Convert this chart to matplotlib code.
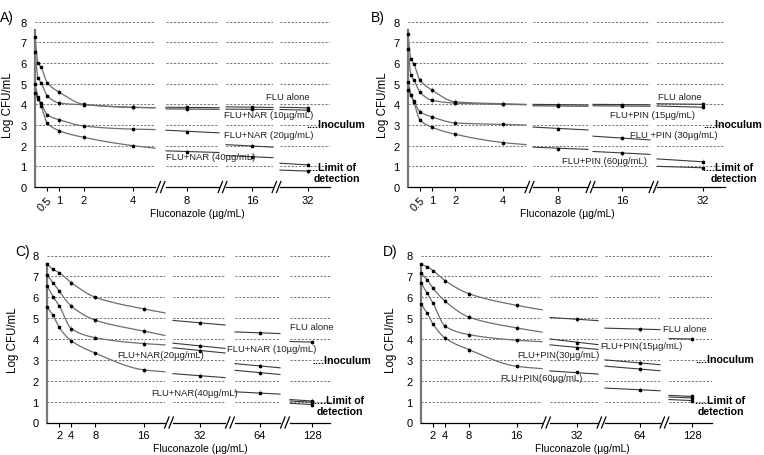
import numpy as np
import matplotlib
matplotlib.use('Agg')
import matplotlib.pyplot as plt
from matplotlib.lines import Line2D

plt.rcParams['font.family'] = ['Liberation Sans', 'DejaVu Sans']

# ------------------------------------------------------------------ data
SERIES_A = ["FLU alone", "FLU+NAR (10µg/mL)", "FLU+NAR (20µg/mL)", "FLU+NAR (40µg/mL)"]
SERIES_B = ["FLU alone", "FLU+PIN (15µg/mL)", "FLU +PIN (30µg/mL)", "FLU+PIN (60µg/mL)"]
SERIES_C = ["FLU alone", "FLU+NAR (10µg/mL)", "FLU+NAR(20µg/mL)", "FLU+NAR(40µg/mL)"]
SERIES_D = ["FLU alone", "FLU+PIN(15µg/mL)", "FLU+PIN(30µg/mL)", "FLU+PIN(60µg/mL)"]

# Panel A
A_conc = [0, 0.125, 0.25, 0.5, 1, 2, 4]
A_flu_alone = [7.25, 6.0, 5.8, 5.05, 4.58, 4.0, 3.85]
A_flu_nar10 = [6.55, 5.28, 5.05, 4.42, 4.06, 3.98, 3.86]
A_flu_nar20 = [5.0, 4.35, 4.05, 3.5, 3.25, 2.95, 2.8]
A_flu_nar40 = [4.55, 4.25, 3.92, 3.1, 2.72, 2.4, 2.0]
A_err = [0.0, 0.05, 0.05, 0.1, 0.15, 0.12, 0.12]
A_edge = [3.83, 3.84, 2.78, 1.88]
A_tail_conc = [8, 16, 32]
A_flu_alone_tail = [(3.86, 3.85, 3.84), (3.88, 3.86, 3.85), (3.86, 3.83, 3.83)]
A_flu_nar10_tail = [(3.78, 3.77, 3.76), (3.77, 3.76, 3.75), (3.75, 3.72, 3.72)]
A_flu_nar20_tail = [(2.75, 2.68, 2.62), (2.05, 2.0, 1.93), (1.15, 1.07, 1.07)]
A_flu_nar40_tail = [(1.75, 1.7, 1.67), (1.52, 1.46, 1.42), (0.82, 0.77, 0.77)]
A_ticks = [0.5, 1, 2, 4]
A_ticklabels = ["0.5", "1", "2", "4"]

# Panel B
B_conc = [0, 0.125, 0.25, 0.5, 1, 2, 4]
B_flu_alone = [7.4, 6.2, 5.95, 5.18, 4.7, 4.12, 4.03]
B_flu_pin15 = [6.7, 5.42, 5.18, 4.6, 4.2, 4.06, 4.0]
B_flu_pin30 = [5.1, 4.45, 4.15, 3.65, 3.4, 3.1, 3.03]
B_flu_pin60 = [4.7, 4.45, 4.1, 3.25, 2.9, 2.55, 2.15]
B_err = [0.0, 0.05, 0.05, 0.12, 0.15, 0.12, 0.12]
B_edge = [4.0, 3.98, 3.0, 2.05]
B_tail_conc = [8, 16, 32]
B_flu_alone_tail = [(4.0, 3.98, 3.97), (4.0, 3.99, 3.98), (4.03, 4.0, 4.0)]
B_flu_pin15_tail = [(3.93, 3.92, 3.91), (3.93, 3.92, 3.91), (3.92, 3.86, 3.86)]
B_flu_pin30_tail = [(2.9, 2.83, 2.76), (2.46, 2.38, 2.28), (1.36, 1.22, 1.22)]
B_flu_pin60_tail = [(1.93, 1.85, 1.82), (1.72, 1.64, 1.58), (1.0, 0.93, 0.93)]
B_ticks = [0.5, 1, 2, 4]
B_ticklabels = ["0.5", "1", "2", "4"]

# Panel C
C_conc = [0, 1, 2, 4, 8, 16]
C_flu_alone = [7.6, 7.33, 7.18, 6.7, 6.0, 5.44]
C_flu_nar10 = [7.07, 6.7, 6.3, 5.58, 4.9, 4.38]
C_flu_nar20 = [6.55, 6.03, 5.6, 4.5, 4.06, 3.78]
C_flu_nar40 = [5.55, 5.13, 4.56, 3.92, 3.32, 2.52]
C_err = [0.0, 0.05, 0.08, 0.15, 0.12, 0.15]
C_edge = [5.25, 4.17, 3.72, 2.43]
C_tail_conc = [32, 64, 128]
C_flu_alone_tail = [(4.89, 4.77, 4.67), (4.34, 4.3, 4.26), (3.88, 3.85, 3.85)]
C_flu_nar10_tail = [(3.8, 3.67, 3.55), (2.82, 2.71, 2.62), (1.1, 1.03, 1.03)]
C_flu_nar20_tail = [(3.58, 3.43, 3.33), (2.5, 2.39, 2.3), (1.03, 0.97, 0.97)]
C_flu_nar40_tail = [(2.34, 2.25, 2.15), (1.47, 1.43, 1.36), (0.92, 0.86, 0.86)]
C_ticks = [2, 4, 8, 16]
C_ticklabels = ["2", "4", "8", "16"]

# Panel D
D_conc = [0, 1, 2, 4, 8, 16]
D_flu_alone = [7.57, 7.47, 7.28, 6.8, 6.17, 5.61]
D_flu_pin15 = [7.17, 6.85, 6.44, 5.82, 5.05, 4.53]
D_flu_pin30 = [6.69, 6.2, 5.72, 4.62, 4.21, 3.94]
D_flu_pin60 = [5.69, 5.25, 4.72, 4.05, 3.49, 2.69]
D_err = [0.0, 0.05, 0.08, 0.15, 0.15, 0.12]
D_edge = [5.4, 4.33, 3.87, 2.58]
D_tail_conc = [32, 64, 128]
D_flu_alone_tail = [(5.03, 4.95, 4.88), (4.52, 4.47, 4.45), (4.02, 4.0, 4.0)]
D_flu_pin15_tail = [(4.0, 3.83, 3.73), (3.0, 2.87, 2.77), (1.3, 1.25, 1.25)]
D_flu_pin30_tail = [(3.72, 3.58, 3.5), (2.7, 2.56, 2.48), (1.22, 1.18, 1.18)]
D_flu_pin60_tail = [(2.47, 2.4, 2.32), (1.65, 1.57, 1.52), (1.1, 1.05, 1.05)]
D_ticks = [2, 4, 8, 16]
D_ticklabels = ["2", "4", "8", "16"]

Y_TICKS = [0, 1, 2, 3, 4, 5, 6, 7, 8]
XLABEL = "Fluconazole (µg/mL)"
YLABEL = "Log CFU/mL"

# ------------------------------------------------------------------ helpers
W, H = 764, 456
fig = plt.figure(figsize=(W / 100, H / 100), dpi=100)

CURVE_C = '#6e6e6e'
GRID_C = '#5a5a5a'
MS = 1.6


def pchip(x, y, xs):
    x = np.asarray(x, float)
    y = np.asarray(y, float)
    h = np.diff(x)
    d = np.diff(y) / h
    m = np.zeros_like(y)
    for k in range(1, len(x) - 1):
        if d[k - 1] * d[k] <= 0:
            m[k] = 0
        else:
            w1 = 2 * h[k] + h[k - 1]
            w2 = h[k] + 2 * h[k - 1]
            m[k] = (w1 + w2) / (w1 / d[k - 1] + w2 / d[k])
    m[0] = d[0]
    m[-1] = d[-1]
    out = np.empty_like(xs)
    idx = np.clip(np.searchsorted(x, xs) - 1, 0, len(x) - 2)
    for i, xv in enumerate(xs):
        k = idx[i]
        t = (xv - x[k]) / h[k]
        h00 = 2 * t**3 - 3 * t**2 + 1
        h10 = t**3 - 2 * t**2 + t
        h01 = -2 * t**3 + 3 * t**2
        h11 = t**3 - t**2
        out[i] = h00 * y[k] + h10 * h[k] * m[k] + h01 * y[k + 1] + h11 * h[k] * m[k + 1]
    return out


def fig_line(x0, y0, x1, y1, **kw):
    fig.add_artist(Line2D([x0 / W, x1 / W], [1 - y0 / H, 1 - y1 / H],
                          transform=fig.transFigure, **kw))


def gridlines(ax):
    for v in range(1, 9):
        ax.axhline(v, color=GRID_C, lw=0.6, ls=(0, (2.5, 2.0)), zorder=0)


def panel(letter, conc, series, err, edge, tail_conc, tails, ticks, ticklabels,
          rot, y_top, y_bot, segs, tail_px, xmax1, labels, letter_pos, ylab_x,
          xlab_x):
    # segment 1
    L, R = segs[0]
    ax = fig.add_axes([L / W, 1 - y_bot / H, (R - L) / W, (y_bot - y_top) / H])
    ax.set_xlim(0, xmax1)
    ax.set_ylim(0, 8)
    gridlines(ax)
    for s in ['top', 'right']:
        ax.spines[s].set_visible(False)
    ax.spines['left'].set_bounds(0, 7.6)
    ax.spines['left'].set_color('#777777')
    ax.spines['left'].set_linewidth(1.6)
    ax.spines['bottom'].set_linewidth(0.9)
    ax.set_yticks(Y_TICKS)
    ax.tick_params(axis='y', length=0, pad=6, labelsize=8)
    ax.set_xticks(ticks)
    ax.set_xticklabels(ticklabels, fontsize=8)
    if rot:
        lab = ax.get_xticklabels()
        lab[0].set_rotation(45)
        lab[0].set_ha('right')
        lab[0].set_va('top')
        lab[0].set_rotation_mode('anchor')
    ax.tick_params(axis='x', length=3, width=0.8, pad=2.5)
    xs = np.linspace(0, xmax1, 400)
    for vals, e in zip(series, edge):
        kx = list(conc) + [xmax1]
        ky = list(vals) + [e]
        ax.plot(xs, pchip(kx, ky, xs), color=CURVE_C, lw=0.9, zorder=2,
                clip_on=False)
        ax.errorbar(conc, vals, yerr=err, fmt='s', ms=MS, color='black',
                    ecolor='#b0b0b0', elinewidth=0.7, capsize=0, zorder=3,
                    clip_on=False)
    # tail segments
    for j in range(3):
        L, R = segs[j + 1]
        t = tail_conc[j]
        T = tail_px[j]
        wid = t * 0.6
        lo = t - (T - L) / (R - L) * wid
        hi = lo + wid
        a = fig.add_axes([L / W, 1 - y_bot / H, (R - L) / W, (y_bot - y_top) / H])
        a.set_xlim(lo, hi)
        a.set_ylim(0, 8)
        gridlines(a)
        for s in ['top', 'right', 'left']:
            a.spines[s].set_visible(False)
        a.spines['bottom'].set_linewidth(0.9)
        a.set_yticks([])
        a.set_xticks([t])
        a.set_xticklabels([str(t)], fontsize=8)
        a.tick_params(axis='x', length=3, width=0.8, pad=2.5)
        xend = hi if j < 2 else t
        for tl in tails:
            yl, ym, yr = tl[j]
            a.plot([lo, xend], [yl, yr], color='#3a3a3a', lw=0.8, zorder=2,
                   clip_on=False)
            a.errorbar([t], [ym], yerr=[0.12], fmt='s', ms=MS, color='black',
                       ecolor='#b0b0b0', elinewidth=0.7, capsize=0, zorder=3,
                       clip_on=False)
    # break marks
    for j in range(3):
        cx = (segs[j][1] + segs[j + 1][0]) / 2
        for off in (-2.2, 2.2):
            fig_line(cx + off - 2.2, y_bot + 5.5, cx + off + 2.2, y_bot - 5.5,
                     color='black', lw=0.9)
    # texts
    fig.text(letter_pos[0] / W, 1 - letter_pos[1] / H, letter, fontsize=10,
             ha='left', va='center')
    fig.text(ylab_x / W, 1 - (y_top + y_bot) / 2 / H, YLABEL, rotation=90,
             fontsize=8.3, ha='center', va='center')
    fig.text(xlab_x / W, 1 - (y_bot + 26) / H, XLABEL, fontsize=7.5,
             ha='center', va='center')
    for txt, x, y, kw in labels:
        fig.text(x / W, 1 - y / H, txt, va='center', **kw)


NORM = dict(fontsize=6.8, ha='left', color='#222222')
BOLD = dict(fontsize=7.6, fontweight='bold', ha='left')
BOLD_R = dict(fontsize=7.6, fontweight='bold', ha='right')

# ---------------- Panel A
panel("A)", A_conc, [A_flu_alone, A_flu_nar10, A_flu_nar20, A_flu_nar40], A_err,
      A_edge, A_tail_conc,
      [A_flu_alone_tail, A_flu_nar10_tail, A_flu_nar20_tail, A_flu_nar40_tail],
      A_ticks, A_ticklabels, True, 22.7, 188,
      [(35, 155), (166, 219), (226, 273), (280, 330)], [187, 252, 308], 4.9,
      [(SERIES_A[0], 266, 98, NORM), (SERIES_A[1], 224, 116, NORM),
       (SERIES_A[2], 224, 136, NORM), (SERIES_A[3], 166, 158, NORM),
       ("....Inoculum", 306, 125, BOLD), ("....Limit of", 306, 168, BOLD),
       ("detection", 360, 179, BOLD_R)],
      (0, 18), 8, 197)

# ---------------- Panel B
panel("B)", B_conc, [B_flu_alone, B_flu_pin15, B_flu_pin30, B_flu_pin60], B_err,
      B_edge, B_tail_conc,
      [B_flu_alone_tail, B_flu_pin15_tail, B_flu_pin30_tail, B_flu_pin60_tail],
      B_ticks, B_ticklabels, True, 22.7, 188,
      [(408, 526), (533, 588), (593, 650), (657, 725)], [558, 622, 703], 4.97,
      [(SERIES_B[0], 658, 97, NORM), (SERIES_B[1], 610, 116, NORM),
       (SERIES_B[2], 630, 136, NORM), (SERIES_B[3], 562, 162, NORM),
       ("....Inoculum", 703, 125, BOLD), ("....Limit of", 703, 168, BOLD),
       ("detection", 757, 179, BOLD_R)],
      (371, 18), 383, 567)

# ---------------- Panel C
panel("C)", C_conc, [C_flu_alone, C_flu_nar10, C_flu_nar20, C_flu_nar40], C_err,
      C_edge, C_tail_conc,
      [C_flu_alone_tail, C_flu_nar10_tail, C_flu_nar20_tail, C_flu_nar40_tail],
      C_ticks, C_ticklabels, False, 256.5, 423.5,
      [(47, 165), (173, 225), (235, 280), (290, 330)], [200, 260, 312], 19.5,
      [(SERIES_C[0], 290, 328, NORM), (SERIES_C[1], 227, 350, NORM),
       (SERIES_C[2], 117, 356, NORM), (SERIES_C[3], 151, 394, NORM),
       ("....Inoculum", 312, 361, BOLD), ("....Limit of", 314, 401, BOLD),
       ("detection", 363, 412, BOLD_R)],
      (15, 252), 13, 200)

# ---------------- Panel D
panel("D)", D_conc, [D_flu_alone, D_flu_pin15, D_flu_pin30, D_flu_pin60], D_err,
      D_edge, D_tail_conc,
      [D_flu_alone_tail, D_flu_pin15_tail, D_flu_pin30_tail, D_flu_pin60_tail],
      D_ticks, D_ticklabels, False, 256.5, 423.5,
      [(421, 542), (550, 598), (605, 660), (669, 712)], [577, 640, 692], 20.2,
      [(SERIES_D[0], 663, 330, NORM), (SERIES_D[1], 600, 347, NORM),
       (SERIES_D[2], 517, 356, NORM), (SERIES_D[3], 500, 379, NORM),
       ("....Inoculum", 695, 360, BOLD), ("....Limit of", 695, 401, BOLD),
       ("detection", 744, 412, BOLD_R)],
      (383, 252), 391, 582)

fig.savefig('out.png', dpi=100)
